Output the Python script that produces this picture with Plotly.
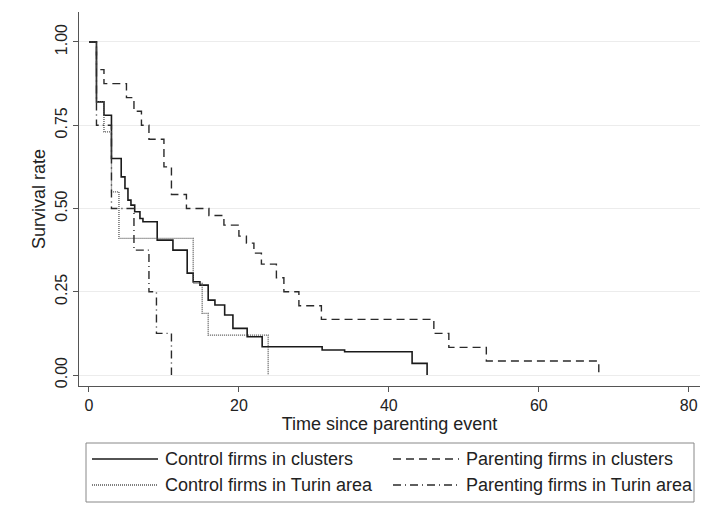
import plotly.graph_objects as go

# Kaplan-Meier survival estimates (step functions), time in years
t_ctrl_cl = [0, 1, 2, 3, 4.3, 4.8, 5.2, 5.6, 6.1, 6.8, 7.2, 9.1, 11.2, 13.1, 13.9, 14.8,
             15.9, 16.8, 18.1, 19.2, 21.1, 23.1, 31.1, 34.1, 43.1, 45.1]
s_ctrl_cl = [1.0, 0.82, 0.78, 0.65, 0.595, 0.56, 0.525, 0.51, 0.49, 0.47, 0.46, 0.405, 0.375,
             0.306, 0.28, 0.27, 0.225, 0.21, 0.18, 0.14, 0.115, 0.085, 0.075, 0.07, 0.035, 0.0]

t_par_cl = [0, 1, 2, 5, 6, 7, 8, 10, 11, 13, 16, 18, 20, 21, 22, 23, 25, 26, 28, 31,
            46, 48, 53, 68]
s_par_cl = [1.0, 0.917, 0.875, 0.833, 0.792, 0.75, 0.708, 0.625, 0.542, 0.5, 0.479, 0.45,
            0.417, 0.396, 0.366, 0.333, 0.292, 0.25, 0.208, 0.167, 0.125, 0.083, 0.042, 0.0]

t_ctrl_tu = [0, 1, 2, 3, 4, 13.9, 15.1, 15.9, 23.9]
s_ctrl_tu = [1.0, 0.82, 0.73, 0.55, 0.41, 0.275, 0.185, 0.12, 0.0]

t_par_tu = [0, 1, 3, 6, 8, 9, 11]
s_par_tu = [1.0, 0.75, 0.5, 0.375, 0.25, 0.125, 0.0]

series_names = ["Control firms in clusters", "Parenting firms in clusters",
                "Control firms in Turin area", "Parenting firms in Turin area"]

x_ticks = [0, 20, 40, 60, 80]
y_ticks = [0.0, 0.25, 0.5, 0.75, 1.0]
y_tick_text = ["0.00", "0.25", "0.50", "0.75", "1.00"]

styles = [
    dict(color="#1a1a1a", width=1.6, dash="solid"),
    dict(color="#2a2a2a", width=1.4, dash="8px,5px"),
    dict(color="#555555", width=1.3, dash="1px,1px"),
    dict(color="#2a2a2a", width=1.4, dash="8px,4px,1px,4px"),
]

fig = go.Figure()
for (tx, sy), name, st in zip(
        [(t_ctrl_cl, s_ctrl_cl), (t_par_cl, s_par_cl), (t_ctrl_tu, s_ctrl_tu), (t_par_tu, s_par_tu)],
        series_names, styles):
    fig.add_trace(go.Scatter(x=tx, y=sy, mode="lines", line_shape="hv", name=name,
                             line=st, showlegend=False))

FAM = "Liberation Sans, Arial, sans-serif"
font = dict(family=FAM, size=18, color="#222222")

fig.update_layout(
    width=707, height=515,
    margin=dict(l=79, r=7, t=12, b=129),
    paper_bgcolor="#ffffff",
    plot_bgcolor="#ffffff",
    font=font,
    xaxis=dict(range=[-1.33, 81.5], tickvals=x_ticks, ticks="outside", ticklen=5,
               tickcolor="#555", showline=True, linecolor="#555", linewidth=1,
               showgrid=False, zeroline=False, tickfont=dict(family=FAM, size=16, color="#222"),
               title=dict(text="Time since parenting event", standoff=2, font=font)),
    yaxis=dict(range=[-0.033, 1.09], tickvals=y_ticks, ticktext=y_tick_text, tickangle=-90,
               ticks="outside", ticklen=5, tickcolor="#555", showline=True, linecolor="#555",
               linewidth=1, showgrid=True, gridcolor="#ececec", gridwidth=1, zeroline=False,
               tickfont=dict(family=FAM, size=16, color="#222"),
               title=dict(text="Survival rate", standoff=2, font=font)),
)

# Legend box drawn below the plot, two columns
PW, PH, L0, B0 = 621, 374, 79, 386
fig.add_shape(type="rect", xref="paper", yref="paper",
              x0=(86 - L0) / PW, x1=(694 - L0) / PW,
              y0=(B0 - 502) / PH, y1=(B0 - 443) / PH,
              line=dict(color="#888888", width=1), fillcolor="#ffffff")
legend_pos = [(92, 459), (393, 459), (92, 485), (393, 485)]
for (px, py), name, st in zip(legend_pos, series_names, styles):
    yy = (B0 - py) / PH
    fig.add_shape(type="line", xref="paper", yref="paper",
                  x0=(px - L0) / PW, x1=(px + 66 - L0) / PW, y0=yy, y1=yy,
                  line=st)
    fig.add_annotation(xref="paper", yref="paper", x=(px + 71 - L0) / PW, y=yy,
                       text=name, showarrow=False, xanchor="left", yanchor="middle",
                       font=dict(family=FAM, size=18, color="#222222"))

fig.write_html("out.html")
